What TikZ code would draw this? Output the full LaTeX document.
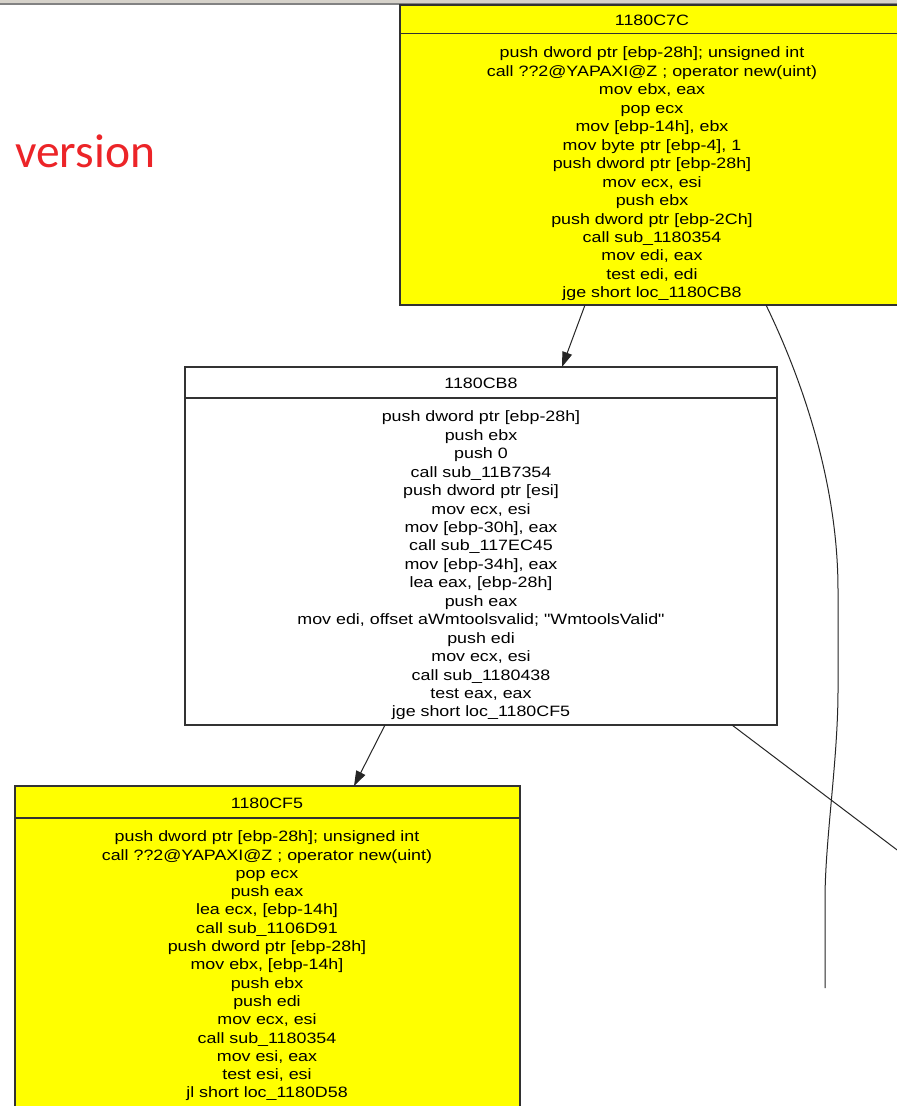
\documentclass[tikz,border=0pt]{standalone}
\usepackage{fontspec}
\usetikzlibrary{arrows.meta}
\newfontfamily\asmfont[FakeStretch=1.19]{Liberation Sans}
\newfontfamily\verfont{Carlito}
\definecolor{idayellow}{RGB}{255,255,0}
\definecolor{vred}{RGB}{236,36,40}
\definecolor{barlight}{RGB}{214,210,202}
\definecolor{bardark}{RGB}{130,130,130}
\definecolor{bordergray}{RGB}{50,50,50}
\tikzset{
  blk/.style={draw=bordergray, line width=1.3pt, rectangle, inner sep=0pt, outer sep=0pt},
  divider/.style={draw=bordergray, line width=1.3pt},
  titletext/.style={font=\asmfont\fontsize{15}{18}\selectfont, inner sep=0pt, anchor=center},
  asmtext/.style={font=\asmfont\fontsize{15}{#1}\selectfont, align=center, inner sep=0pt, anchor=center},
  edge/.style={draw=black!85, line width=1pt},
  arrowedge/.style={edge, -{Triangle[length=15pt,width=10pt]}},
}
\begin{document}
\begin{tikzpicture}[x=1pt,y=-1pt]
\useasboundingbox (0,0) rectangle (897,1106);
\clip (0,0) rectangle (897,1106);
\fill[white] (0,0) rectangle (897,1106);
% top window bar
\fill[barlight] (0,0) rectangle (897,3);
\fill[bardark] (0,3) rectangle (897,5);

% label
\node[anchor=base west, text=vred, inner sep=0pt, font=\verfont\fontsize{47.5}{50}\selectfont] (ver) at (15,167) {version};

% block 1
\node[blk, fill=idayellow, minimum width=504, minimum height=300] (b1) at (652,155) {};
\draw[divider] ([yshift=-28.5pt]b1.north west) -- ([yshift=-28.5pt]b1.north east);
\node[titletext] (t1) at (652,20) {1180C7C};
\node[asmtext=18.46] (c1) at (652,174) {push dword ptr [ebp-28h]; unsigned int\\
call ??2@YAPAXI@Z ; operator new(uint)\\
mov ebx, eax\\
pop ecx\\
mov [ebp-14h], ebx\\
mov byte ptr [ebp-4], 1\\
push dword ptr [ebp-28h]\\
mov ecx, esi\\
push ebx\\
push dword ptr [ebp-2Ch]\\
call sub\_1180354\\
mov edi, eax\\
test edi, edi\\
jge short loc\_1180CB8};

% block 2
\node[blk, fill=white, minimum width=592, minimum height=358] (b2) at (481,546) {};
\draw[divider] ([yshift=-31pt]b2.north west) -- ([yshift=-31pt]b2.north east);
\node[titletext] (t2) at (481,383) {1180CB8};
\node[asmtext=18.44] (c2) at (481,565.5) {push dword ptr [ebp-28h]\\
push ebx\\
push 0\\
call sub\_11B7354\\
push dword ptr [esi]\\
mov ecx, esi\\
mov [ebp-30h], eax\\
call sub\_117EC45\\
mov [ebp-34h], eax\\
lea eax, [ebp-28h]\\
push eax\\
mov edi, offset aWmtoolsvalid; "WmtoolsValid"\\
push edi\\
mov ecx, esi\\
call sub\_1180438\\
test eax, eax\\
jge short loc\_1180CF5};

% block 3
\node[blk, fill=idayellow, minimum width=505, minimum height=334] (b3) at (267.5,953) {};
\draw[divider] ([yshift=-32pt]b3.north west) -- ([yshift=-32pt]b3.north east);
\node[titletext] (t3) at (267,803) {1180CF5};
\node[asmtext=18.3] (c3) at (267,966) {push dword ptr [ebp-28h]; unsigned int\\
call ??2@YAPAXI@Z ; operator new(uint)\\
pop ecx\\
push eax\\
lea ecx, [ebp-14h]\\
call sub\_1106D91\\
push dword ptr [ebp-28h]\\
mov ebx, [ebp-14h]\\
push ebx\\
push edi\\
mov ecx, esi\\
call sub\_1180354\\
mov esi, eax\\
test esi, esi\\
jl short loc\_1180D58};

% connectors
\coordinate (e3end) at (825,988);
\coordinate (e4end) at (917,865);
\draw[arrowedge] ([xshift=185pt]b1.south west) -- ([xshift=377pt]b2.north west);
\draw[arrowedge] ([xshift=200pt]b2.south west) -- ([xshift=339pt]b3.north west);
\draw[edge] ([xshift=366pt]b1.south west) .. controls (800,375) and (838,480) .. (838,590)
  -- (838,690) .. controls (838,760) and (825,840) .. (825,900) -- (e3end);
\draw[edge] ([xshift=-45pt]b2.south east) -- (e4end);
\end{tikzpicture}
\end{document}
